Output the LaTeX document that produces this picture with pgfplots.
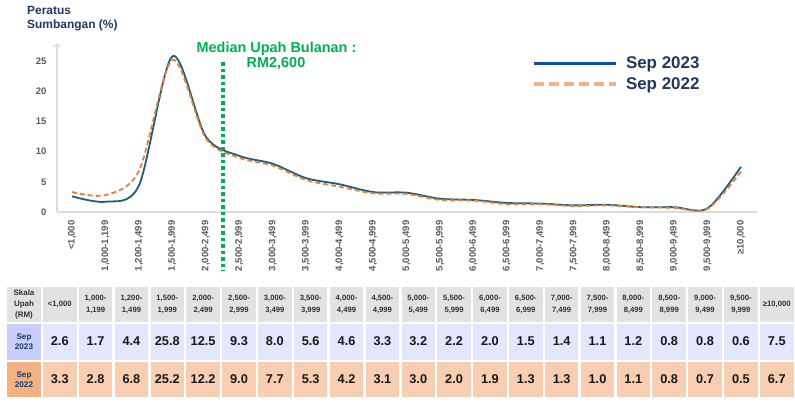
\documentclass[border=0pt]{standalone}
\usepackage{fontspec}
\setmainfont{Liberation Sans}
\usepackage{pgfplots}
\usepackage{pgfplotstable}
\pgfplotsset{compat=1.18}
\usetikzlibrary{arrows.meta}

\definecolor{navy}{RGB}{31,56,100}
\definecolor{medgreen}{RGB}{0,176,80}
\definecolor{line23}{RGB}{28,92,125}
\definecolor{line22}{RGB}{237,125,49}
\definecolor{leg23}{RGB}{12,78,178}
\definecolor{leg22}{RGB}{244,177,131}
\definecolor{axisgray}{RGB}{220,220,220}
\definecolor{tickgray}{RGB}{89,89,89}
\definecolor{hdrgray}{RGB}{226,226,226}
\definecolor{hdrtext}{RGB}{50,50,50}
\definecolor{row23}{RGB}{227,230,252}
\definecolor{first23}{RGB}{201,205,250}
\definecolor{row22}{RGB}{248,206,178}
\definecolor{first22}{RGB}{244,177,131}

\pgfplotstableread{
idx a b
0 2.6 3.3
1 1.7 2.8
2 4.4 6.8
3 25.8 25.2
4 12.5 12.2
5 9.3 9.0
6 8.0 7.7
7 5.6 5.3
8 4.6 4.2
9 3.3 3.1
10 3.2 3.0
11 2.2 2.0
12 2.0 1.9
13 1.5 1.3
14 1.4 1.3
15 1.1 1.0
16 1.2 1.1
17 0.8 0.8
18 0.8 0.7
19 0.6 0.5
20 7.5 6.7
}\data

\begin{document}
\begin{tikzpicture}
\useasboundingbox (0,0) rectangle (795bp,-403bp);
\begin{axis}[
  at={(57bp,-212bp)}, anchor=south west,
  scale only axis, width=700bp, height=169bp,
  xmin=-0.45, xmax=20.48, ymin=0, ymax=28,
  axis x line=bottom, axis y line=left,
  x axis line style={-, draw=axisgray, line width=1.5bp},
  y axis line style={-{Straight Barb[length=3bp,width=7bp,line width=1.3bp]}, draw=axisgray, line width=1.5bp},
  major tick length=0pt,
  ytick={0,5,10,15,20,25},
  xtick={0,...,20},
  xticklabels={{<1,000},{1,000-1,199},{1,200-1,499},{1,500-1,999},{2,000-2,499},{2,500-2,999},{3,000-3,499},{3,500-3,999},{4,000-4,499},{4,500-4,999},{5,000-5,499},{5,500-5,999},{6,000-6,499},{6,500-6,999},{7,000-7,499},{7,500-7,999},{8,000-8,499},{8,500-8,999},{9,000-9,499},{9,500-9,999},{≥10,000}},
  ticklabel style={font=\fontsize{9.5}{11}\selectfont\bfseries, text=tickgray},
  /pgf/number format/assume math mode=true,
  yticklabel shift=7bp,
  xticklabel shift=5bp,
  xticklabel style={rotate=90, anchor=east},
  clip=false,
  legend style={at={(0.679,0.93)}, anchor=north west, draw=none, fill=none,
    font=\fontsize{17}{19}\selectfont\bfseries, text=navy, inner sep=0pt,
    row sep=3bp, nodes={inner sep=2bp}},
  legend cell align=left,
  legend image code/.code={\draw[#1] (0bp,0bp) -- (82bp,0bp); \path (88bp,0bp);},
]
\addlegendimage{leg23, line width=3.5bp}
\addlegendentry{Sep 2023}
\addlegendimage{leg22, line width=3.5bp, dash pattern=on 10bp off 5bp}
\addlegendentry{Sep 2022}
\addplot[line23, line width=1.8bp, smooth, tension=0.5, forget plot] table[x=idx,y=a]{\data};
\addplot[line22, line width=1.8bp, dash pattern=on 5bp off 3bp, smooth, tension=0.5, forget plot] table[x=idx,y=b]{\data};
\addplot[medgreen, line width=4bp, dash pattern=on 3.5bp off 3bp, forget plot] coordinates {(4.5,24.8) (4.5,-9.8)};
\end{axis}

\begin{scope}[x=1bp,y=-1bp]
\node[anchor=north west, align=left, font=\fontsize{12}{14}\selectfont\bfseries, text=navy, inner sep=0pt] at (27,6) {Peratus\\Sumbangan (\%)};
\node[anchor=base, font=\fontsize{14.5}{16}\selectfont\bfseries, text=medgreen, inner sep=0pt] at (276.5,52) {Median Upah Bulanan :};
\node[anchor=base, font=\fontsize{14.5}{16}\selectfont\bfseries, text=medgreen, inner sep=0pt] at (276,67) {RM2,600};

\fill[hdrgray] (7,287) rectangle (41,322);
\node[align=center, font=\fontsize{8}{11}\selectfont\bfseries, text=hdrtext] at (24,304.5) {Skala\\Upah\\(RM)};
\fill[first23] (7,324) rectangle (41,360);
\node[align=center, font=\fontsize{8.2}{10}\selectfont\bfseries, text=navy] at (24,342) {Sep\\2023};
\fill[first22] (7,362) rectangle (41,397);
\node[align=center, font=\fontsize{8.2}{10}\selectfont\bfseries, text=navy] at (24,379.5) {Sep\\2022};

\foreach \k/\lab in {0/{<1,000}, 1/{1,000-\\1,199}, 2/{1,200-\\1,499}, 3/{1,500-\\1,999}, 4/{2,000-\\2,499}, 5/{2,500-\\2,999}, 6/{3,000-\\3,499}, 7/{3,500-\\3,999}, 8/{4,000-\\4,499}, 9/{4,500-\\4,999}, 10/{5,000-\\5,499}, 11/{5,500-\\5,999}, 12/{6,000-\\6,499}, 13/{6,500-\\6,999}, 14/{7,000-\\7,499}, 15/{7,500-\\7,999}, 16/{8,000-\\8,499}, 17/{8,500-\\8,999}, 18/{9,000-\\9,499}, 19/{9,500-\\9,999}, 20/{≥10,000}} {
  \pgfmathsetmacro\xl{43+35.85*\k}
  \fill[hdrgray] (\xl,287) rectangle ++(33.5,35);
  \fill[row23] (\xl,324) rectangle ++(33.5,36);
  \fill[row22] (\xl,362) rectangle ++(33.5,35);
  \node[align=center, font=\fontsize{7.7}{12}\selectfont\bfseries, text=hdrtext] at (\xl+16.75,304.5) {\lab};
  \pgfplotstablegetelem{\k}{a}\of\data
  \node[font=\fontsize{12.8}{15}\selectfont\bfseries, text=black!90] at (\xl+16.75,341.5) {\pgfplotsretval};
  \pgfplotstablegetelem{\k}{b}\of\data
  \node[font=\fontsize{12.8}{15}\selectfont\bfseries, text=black!90] at (\xl+16.75,379.5) {\pgfplotsretval};
}
\end{scope}
\end{tikzpicture}
\end{document}
